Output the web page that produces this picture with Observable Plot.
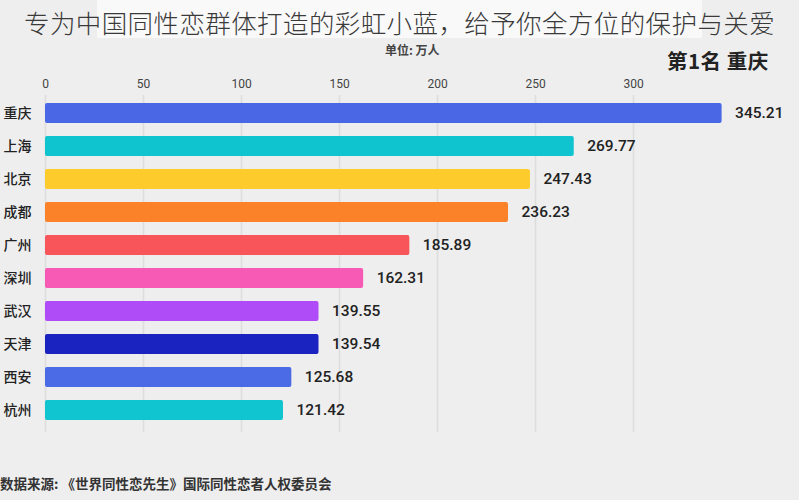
<!DOCTYPE html>
<html>
<head>
<meta charset="utf-8">
<script src="https://cdn.jsdelivr.net/npm/d3@7"></script>
<script src="https://cdn.jsdelivr.net/npm/@observablehq/plot@0.6"></script>
<style>
  html, body { margin: 0; padding: 0; background: #eeeeee; overflow: hidden; }
  #wrap { position: relative; width: 799px; height: 500px; font-family: "Noto Sans CJK SC", "Noto Sans", sans-serif; }
  #band { position: absolute; left: 97px; top: 0; width: 605px; height: 38px; background: #f9f9f9; }
  #title { position: absolute; left: 24px; top: 3px; font-size: 25.5px; font-weight: 300; color: #3a3a3a; white-space: nowrap; letter-spacing: 0.4px; }
  #unit { position: absolute; left: 385px; top: 41px; font-size: 12px; font-weight: 700; color: #444; white-space: nowrap; }
  #rank { position: absolute; left: 667px; top: 45px; font-size: 20.5px; font-weight: 700; color: #222; white-space: nowrap; letter-spacing: 0.5px; }
  #source { position: absolute; left: 0px; top: 473px; font-size: 13.5px; font-weight: 700; color: #333; white-space: nowrap; }
  #chart { position: absolute; left: 0; top: 0; }
</style>
</head>
<body>
<div id="wrap">
  <div id="band"></div>
  <div id="chart"></div>
  <div id="title"></div>
  <div id="unit"></div>
  <div id="rank"></div>
  <div id="source"></div>
</div>
<script>
const titleText = "专为中国同性恋群体打造的彩虹小蓝，给予你全方位的保护与关爱";
const unitText = "单位: 万人";
const rankText = "第1名 重庆";
const sourceText = "数据来源: 《世界同性恋先生》国际同性恋者人权委员会";

const cities = ["重庆", "上海", "北京", "成都", "广州", "深圳", "武汉", "天津", "西安", "杭州"];
const values = [345.21, 269.77, 247.43, 236.23, 185.89, 162.31, 139.55, 139.54, 125.68, 121.42];
const colors = ["#4a68e6", "#0fc3cf", "#fdcb2b", "#fb8228", "#f8555a", "#f75ab4", "#af4cf7", "#1a22bf", "#4b6be6", "#10c4d0"];
const xTicks = [0, 50, 100, 150, 200, 250, 300];

const data = cities.map((c, i) => ({city: c, value: values[i], color: colors[i]}));

document.getElementById("title").textContent = titleText;
document.getElementById("unit").textContent = unitText;
document.getElementById("rank").textContent = rankText;
document.getElementById("source").textContent = sourceText;

const chart = Plot.plot({
  width: 799,
  height: 500,
  marginTop: 95,
  marginBottom: 68,
  marginLeft: 45,
  marginRight: 0,
  style: {background: "transparent", fontFamily: "Noto Sans CJK SC, sans-serif", overflow: "visible"},
  x: {domain: [0, 300], range: [45, 633], ticks: xTicks},
  y: {domain: cities, range: [96, 426], paddingInner: 0.4, paddingOuter: 0.2},
  marks: [
    Plot.gridX(xTicks, {stroke: "#dddddd", strokeOpacity: 1, strokeWidth: 1.6}),
    Plot.axisX(xTicks, {anchor: "top", tickSize: 0, tickPadding: 8, fontSize: 12, fill: "#444", label: null, fontFamily: "Roboto, sans-serif"}),
    Plot.axisY({tickSize: 0, tickPadding: 14, fontSize: 14, fill: "#222", label: null, fontWeight: 500}),
    Plot.barX(data, {x: "value", y: "city", fill: "color", rx: 2}),
    Plot.text(data, {x: "value", y: "city", text: d => d.value.toFixed(2), dx: 13, textAnchor: "start", fontSize: 15.5, fontWeight: 500, fill: "#222", fontFamily: "Roboto, sans-serif"})
  ]
});
document.getElementById("chart").appendChild(chart);
</script>
</body>
</html>
